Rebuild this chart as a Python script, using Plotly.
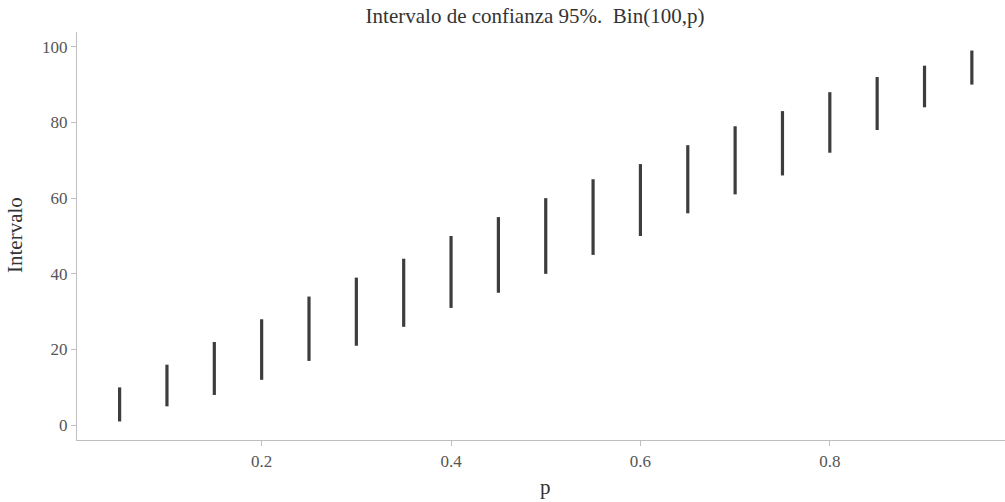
import plotly.graph_objects as go

p_values = [0.05, 0.10, 0.15, 0.20, 0.25, 0.30, 0.35, 0.40, 0.45, 0.50,
            0.55, 0.60, 0.65, 0.70, 0.75, 0.80, 0.85, 0.90, 0.95]
lower = [1, 5, 8, 12, 17, 21, 26, 31, 35, 40, 45, 50, 56, 61, 66, 72, 78, 84, 90]
upper = [10, 16, 22, 28, 34, 39, 44, 50, 55, 60, 65, 69, 74, 79, 83, 88, 92, 95, 99]

x_ticks = [0.2, 0.4, 0.6, 0.8]
x_tick_labels = ["0.2", "0.4", "0.6", "0.8"]
y_ticks = [0, 20, 40, 60, 80, 100]
y_tick_labels = ["0", "20", "40", "60", "80", "100"]

FONT = "Liberation Serif"

xs, ys = [], []
for p, lo, hi in zip(p_values, lower, upper):
    xs += [p, p, None]
    ys += [lo, hi, None]

fig = go.Figure()
fig.add_trace(go.Scatter(x=xs, y=ys, mode="lines",
                         line=dict(color="#3d3d3d", width=3.2),
                         hoverinfo="skip", showlegend=False))

axis_common = dict(showgrid=False, zeroline=False, showline=True,
                   linecolor="#bfbfbf", linewidth=1.3,
                   ticks="outside", ticklen=5, tickwidth=1, tickcolor="#bfbfbf",
                   tickfont=dict(family=FONT, size=17, color="#555555"))

fig.update_layout(
    width=1005, height=502,
    margin=dict(l=77, r=0, t=32, b=62),
    paper_bgcolor="white", plot_bgcolor="white",
    title=dict(text="Intervalo de confianza 95%.\u00a0 Bin(100,p)",
               font=dict(family=FONT, size=21, color="#333333"),
               xref="container", x=535 / 1005, xanchor="center",
               yref="container", y=1 - 16 / 502, yanchor="middle"),
    xaxis=dict(range=[0.005, 0.985], tickvals=x_ticks, ticktext=x_tick_labels,
               **axis_common),
    yaxis=dict(range=[-3.9, 103.9], tickvals=y_ticks, ticktext=y_tick_labels,
               **axis_common),
    annotations=[
        dict(text="p", xref="paper", yref="paper",
             x=(545.5 - 77) / (1005 - 77), y=-(487 - 440) / 408,
             xanchor="center", yanchor="middle", showarrow=False,
             font=dict(family=FONT, size=21, color="#333333")),
        dict(text="Intervalo", xref="paper", yref="paper",
             x=-(77 - 15) / (1005 - 77), y=(440 - 235) / 408,
             xanchor="center", yanchor="middle", showarrow=False, textangle=-90,
             font=dict(family=FONT, size=21, color="#333333")),
    ],
)

fig.write_html("out.html")
